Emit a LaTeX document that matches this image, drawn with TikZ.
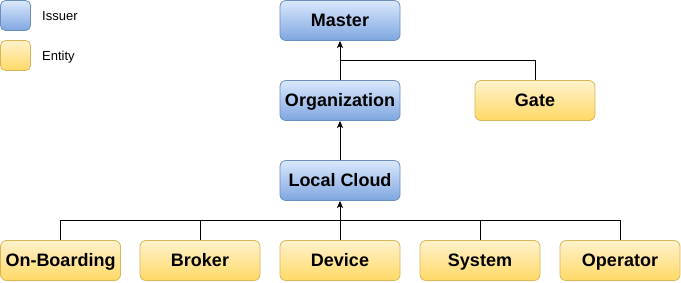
\documentclass[tikz,border=0pt]{standalone}
\usepackage{fontspec}
\setmainfont{Liberation Sans}
\usetikzlibrary{arrows.meta}
\definecolor{issuerTop}{HTML}{DAE8FC}
\definecolor{issuerBot}{HTML}{7EA6E0}
\definecolor{issuerLine}{HTML}{6C8EBF}
\definecolor{entityTop}{HTML}{FFF2CC}
\definecolor{entityBot}{HTML}{FFD966}
\definecolor{entityLine}{HTML}{D6B656}
\tikzset{
  box/.style={rounded corners=6pt, minimum width=120pt, minimum height=40pt,
    line width=0.8pt, inner sep=0pt, text height=12.9pt, text depth=0pt,
    font=\fontsize{18}{21}\selectfont\bfseries},
  issuer/.style={box, draw=issuerLine, top color=issuerTop, bottom color=issuerBot},
  entity/.style={box, draw=entityLine, top color=entityTop, bottom color=entityBot},
  legendbox/.style={rounded corners=5pt, minimum width=30pt, minimum height=30pt,
    line width=0.8pt, inner sep=0pt},
  legendtext/.style={anchor=west, inner sep=0pt, text height=9.3pt, text depth=0pt,
    font=\fontsize{13}{15}\selectfont},
  link/.style={line width=1pt, black},
  arrow/.style={link, -{Stealth[length=7pt,width=6pt,inset=1.5pt]}}
}
\begin{document}
\begin{tikzpicture}[x=1pt,y=-1pt]
  \useasboundingbox (0,0) rectangle (681,282);
  % legend
  \node[legendbox, draw=issuerLine, top color=issuerTop, bottom color=issuerBot] (legI) at (15.5,15.5) {};
  \node[legendtext] (legIt) at (42,15.5) {Issuer};
  \node[legendbox, draw=entityLine, top color=entityTop, bottom color=entityBot] (legE) at (15.5,55.5) {};
  \node[legendtext] (legEt) at (42,55.5) {Entity};
  % issuers
  \node[issuer] (master) at (340,20.5) {Master};
  \node[issuer] (org) at (340,100.5) {Organization};
  \node[issuer] (lc) at (340,180.5) {Local Cloud};
  % entities
  \node[entity] (gate) at (535,100.5) {Gate};
  \node[entity] (onb) at (60.5,260.5) {On-Boarding};
  \node[entity] (brk) at (200,260.5) {Broker};
  \node[entity] (dev) at (340,260.5) {Device};
  \node[entity] (sys) at (480,260.5) {System};
  \node[entity] (opr) at (620,260.5) {Operator};
  % junctions
  \coordinate (topJ) at (340,60);
  \coordinate (busJ) at (340,220);
  % connectors
  \draw[arrow] (org.north) -- (master.south);
  \draw[link] (gate.north) |- (topJ);
  \draw[arrow] (dev.north) -- (lc.south);
  \draw[arrow] (lc.north) -- (org.south);
  \draw[link] (onb.north) |- (busJ);
  \draw[link] (brk.north) |- (busJ);
  \draw[link] (sys.north) |- (busJ);
  \draw[link] (opr.north) |- (busJ);
\end{tikzpicture}
\end{document}
